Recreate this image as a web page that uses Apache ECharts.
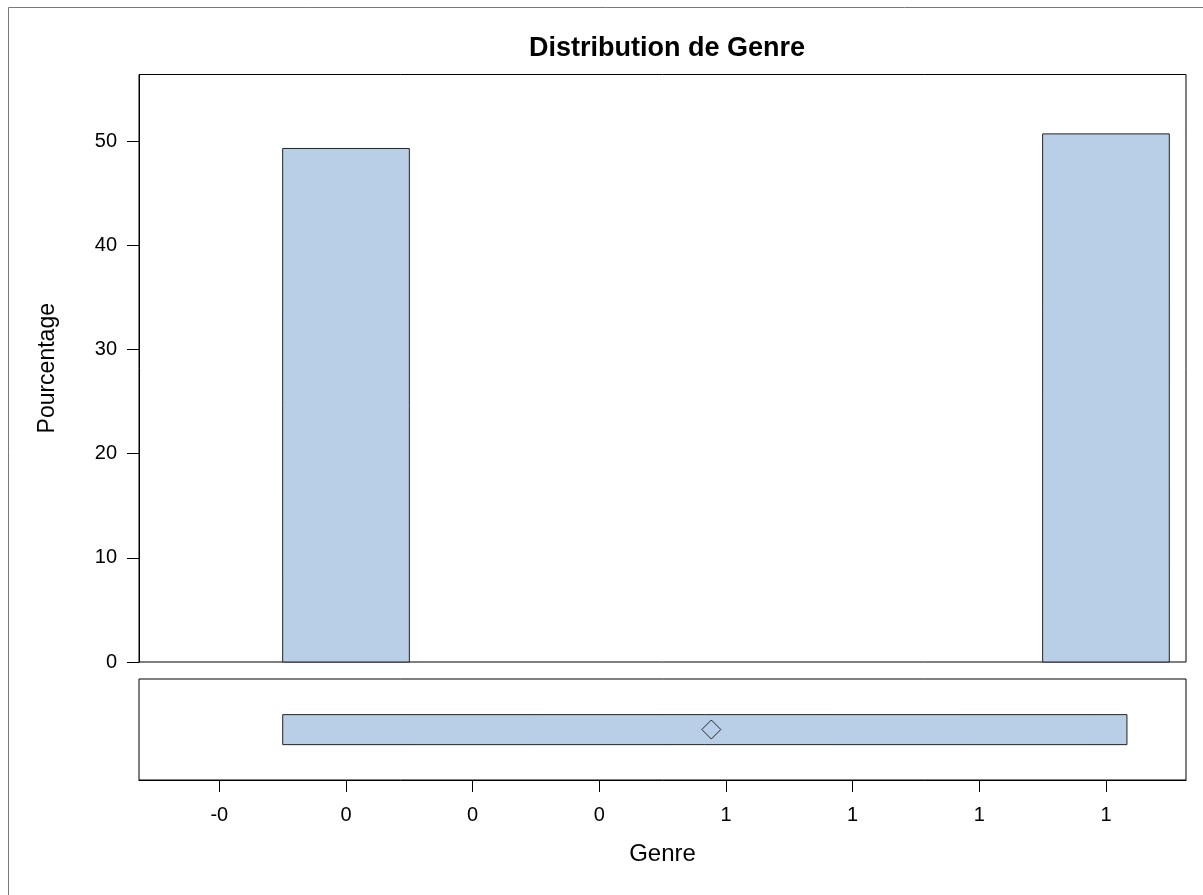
<!DOCTYPE html>
<html><head><meta charset="utf-8">
<script src="https://cdn.jsdelivr.net/npm/echarts@6/dist/echarts.min.js"></script>
<style>html,body{margin:0;padding:0;background:#fff}#c{width:1203px;height:895px}</style>
</head><body><div id="c"></div>
<script>
// ---- data ----
const binCenters = [0, 1];
const binWidth = 1 / 6;
const percentages = [49.3, 50.7];
const boxRange = [-0.0833, 1.0276];   // box extent in the box panel
const meanValue = 0.4807;             // mean marker
const xTickValues = [-1/6, 0, 1/6, 2/6, 3/6, 4/6, 5/6, 1];
const xTickLabels = ['-0', '0', '0', '0', '1', '1', '1', '1'];
const yTickValues = [0, 10, 20, 30, 40, 50];

const FONT = 'Liberation Sans, Arial, sans-serif';
const FILL = '#B9CFE7';
const X_MIN = -0.2724, X_MAX = 1.1053;

const chart = echarts.init(document.getElementById('c'), null, {renderer: 'canvas'});

const histData = binCenters.map((c, i) => [c - binWidth / 2, c + binWidth / 2, percentages[i]]);

chart.setOption({
  animation: false,
  backgroundColor: '#fff',
  title: {
    text: 'Distribution de Genre',
    left: 662, textAlign: 'center', top: 30,
    textStyle: {fontFamily: FONT, fontWeight: 'bold', fontSize: 27, color: '#000'}
  },
  graphic: [{
    type: 'polyline', silent: true,
    shape: {points: [[8.5, 895], [8.5, 7.5], [1203, 7.5]]},
    style: {stroke: '#777', lineWidth: 1, fill: null}
  }],
  grid: [
    {left: 139, right: 17, top: 74.5, height: 587.5, show: true, borderColor: '#000', borderWidth: 1, backgroundColor: '#fff'},
    {left: 139, right: 17, top: 679, height: 101, show: true, borderColor: '#000', borderWidth: 1, backgroundColor: '#fff'}
  ],
  xAxis: [
    {type: 'value', gridIndex: 0, min: X_MIN, max: X_MAX,
     axisLine: {show: false}, axisTick: {show: false}, axisLabel: {show: false}, splitLine: {show: false}},
    {type: 'value', gridIndex: 1, min: X_MIN, max: X_MAX, position: 'bottom',
     name: 'Genre', nameLocation: 'middle', nameGap: 62,
     nameTextStyle: {fontFamily: FONT, fontSize: 24, color: '#000'},
     axisLine: {show: true, onZero: false, lineStyle: {color: '#000'}},
     axisTick: {show: true, length: 12, inside: false, customValues: xTickValues, lineStyle: {color: '#000'}},
     axisLabel: {show: true, margin: 25, customValues: xTickValues, fontFamily: FONT, fontSize: 20, color: '#000',
       formatter: function (v) {
         let best = 0, d = Infinity;
         xTickValues.forEach((t, i) => { const dd = Math.abs(t - v); if (dd < d) { d = dd; best = i; } });
         return xTickLabels[best];
       }},
     splitLine: {show: false}}
  ],
  yAxis: [
    {type: 'value', gridIndex: 0, min: 0, max: 56.4,
     name: 'Pourcentage', nameLocation: 'middle', nameGap: 80, nameRotate: 90,
     nameTextStyle: {fontFamily: FONT, fontSize: 23, color: '#000'},
     axisLine: {show: true, onZero: false, lineStyle: {color: '#000'}},
     axisTick: {show: true, length: 12, customValues: yTickValues, lineStyle: {color: '#000'}},
     axisLabel: {show: true, margin: 22, customValues: yTickValues, fontFamily: FONT, fontSize: 20, color: '#000'},
     splitLine: {show: false}},
    {type: 'value', gridIndex: 1, min: 0, max: 1, show: false}
  ],
  series: [
    {
      type: 'custom', xAxisIndex: 0, yAxisIndex: 0, data: histData,
      renderItem: function (params, api) {
        const p0 = api.coord([api.value(0), 0]);
        const p1 = api.coord([api.value(1), api.value(2)]);
        return {type: 'rect', shape: {x: p0[0], y: p1[1], width: p1[0] - p0[0], height: p0[1] - p1[1]},
          style: {fill: FILL, stroke: '#222', lineWidth: 1}};
      }
    },
    {
      type: 'custom', xAxisIndex: 1, yAxisIndex: 1, data: [[boxRange[0], boxRange[1]]],
      renderItem: function (params, api) {
        const a = api.coord([api.value(0), 0.35]);
        const b = api.coord([api.value(1), 0.647]);
        return {type: 'rect', shape: {x: a[0], y: b[1], width: b[0] - a[0], height: a[1] - b[1]},
          style: {fill: FILL, stroke: '#222', lineWidth: 1}};
      }
    },
    {
      type: 'scatter', xAxisIndex: 1, yAxisIndex: 1, data: [[meanValue, 0.5]],
      symbol: 'diamond', symbolSize: [19, 19],
      itemStyle: {color: 'rgba(0,0,0,0)', borderColor: '#000', borderWidth: 1}
    }
  ]
});
</script></body></html>
